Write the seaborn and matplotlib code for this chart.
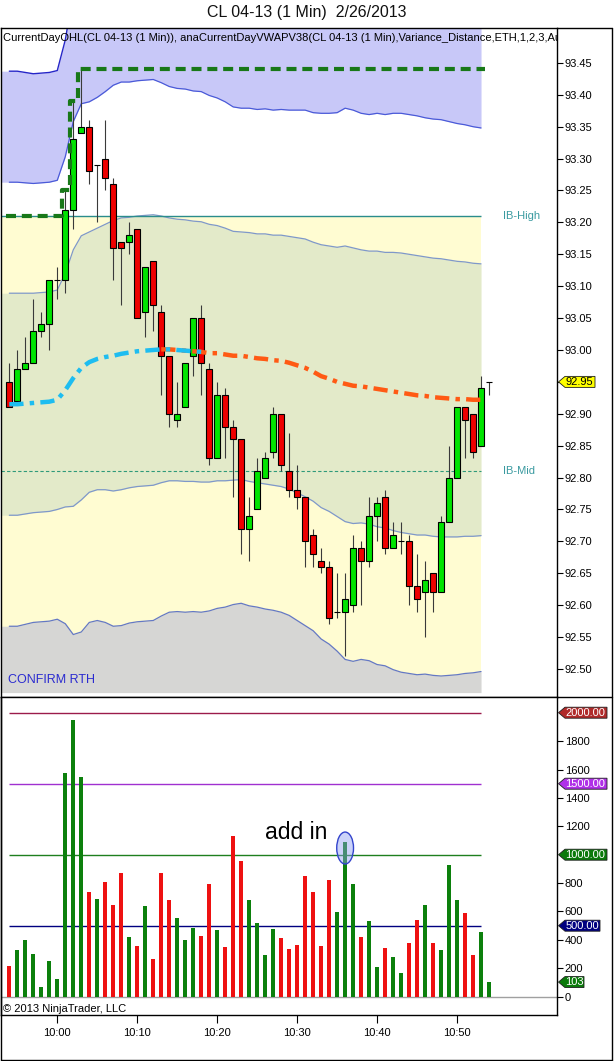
import numpy as np
import pandas as pd
import matplotlib
matplotlib.use("Agg")
import matplotlib.pyplot as plt
import seaborn as sns
from matplotlib.patches import Polygon, Ellipse
from matplotlib.lines import Line2D

sns.set_style("white")
plt.rcParams['font.family'] = ['Liberation Sans', 'DejaVu Sans']

# ---------------- data ----------------
title = "CL 04-13 (1 Min)  2/26/2013"
indicator_label = ("CurrentDayOHL(CL 04-13 (1 Min)), anaCurrentDayVWAPV38(CL 04-13 (1 Min),"
                   "Variance_Distance,ETH,1,2,3,Auto)")
times = pd.date_range("2013-02-26 09:54", periods=61, freq="min")

opens = [92.95, 92.92, 92.97, 92.98, 93.03, 93.04, 93.11, 93.11, 93.22, 93.34,
         93.35, 93.29, 93.30, 93.26, 93.17, 93.17, 93.19, 93.06, 93.14, 93.06,
         92.99, 92.89, 92.91, 92.99, 93.05, 92.97, 92.83, 92.93, 92.88, 92.86,
         92.72, 92.75, 92.80, 92.84, 92.90, 92.81, 92.78, 92.77, 92.71, 92.67,
         92.66, 92.59, 92.59, 92.60, 92.69, 92.67, 92.74, 92.77, 92.69, 92.70,
         92.70, 92.63, 92.62, 92.65, 92.62, 92.73, 92.80, 92.91, 92.90, 92.85,
         92.95]
highs = [92.98, 93.00, 93.02, 93.08, 93.06, 93.11, 93.13, 93.25, 93.39, 93.44,
         93.36, 93.29, 93.36, 93.27, 93.17, 93.20, 93.19, 93.13, 93.14, 93.07,
         92.99, 92.95, 92.98, 93.05, 93.07, 92.98, 92.95, 92.94, 92.89, 92.86,
         92.77, 92.83, 92.84, 92.91, 92.90, 92.87, 92.82, 92.77, 92.72, 92.69,
         92.67, 92.65, 92.65, 92.71, 92.70, 92.77, 92.77, 92.78, 92.73, 92.73,
         92.71, 92.68, 92.67, 92.65, 92.74, 92.85, 92.91, 92.91, 92.90, 92.96,
         92.95]
lows = [92.91, 92.92, 92.97, 92.98, 93.02, 93.00, 93.08, 93.09, 93.19, 93.34,
        93.26, 93.20, 93.25, 93.11, 93.07, 93.15, 93.05, 93.02, 93.03, 92.93,
        92.88, 92.88, 92.91, 92.96, 92.93, 92.82, 92.83, 92.83, 92.77, 92.68,
        92.67, 92.75, 92.80, 92.83, 92.81, 92.77, 92.75, 92.66, 92.66, 92.65,
        92.57, 92.58, 92.52, 92.59, 92.60, 92.66, 92.70, 92.68, 92.69, 92.68,
        92.60, 92.59, 92.55, 92.59, 92.62, 92.73, 92.80, 92.83, 92.83, 92.85,
        92.93]
closes = [92.91, 92.97, 92.98, 93.03, 93.04, 93.11, 93.11, 93.22, 93.33, 93.35,
          93.28, 93.29, 93.27, 93.16, 93.16, 93.18, 93.05, 93.13, 93.07, 92.99,
          92.90, 92.90, 92.98, 93.05, 92.98, 92.83, 92.93, 92.88, 92.86, 92.72,
          92.74, 92.81, 92.83, 92.90, 92.82, 92.78, 92.77, 92.70, 92.68, 92.66,
          92.58, 92.59, 92.61, 92.69, 92.67, 92.74, 92.76, 92.69, 92.71, 92.70,
          92.63, 92.61, 92.64, 92.62, 92.73, 92.80, 92.91, 92.89, 92.84, 92.94,
          92.95]
volumes = [218, 329, 399, 301, 70, 251, 125, 1577, 1948, 1547,
           737, 688, 810, 646, 871, 420, 357, 639, 265, 871,
           681, 554, 399, 484, 427, 796, 470, 350, 1132, 956,
           681, 521, 294, 477, 416, 338, 364, 850, 739, 357,
           822, 596, 1087, 796, 420, 535, 211, 345, 280, 167,
           378, 540, 646, 378, 331, 927, 681, 592, 294, 456,
           103]

# VWAP and its standard deviation (bands at 1, 2, 3 sd), one value per completed bar
vwap = [92.915, 92.915, 92.916, 92.917, 92.918, 92.919, 92.922, 92.937, 92.956, 92.972,
        92.981, 92.986, 92.989, 92.991, 92.994, 92.996, 92.998, 92.999, 93.000, 93.001,
        93.001, 93.000, 92.999, 92.998, 92.997, 92.995, 92.995, 92.993, 92.991, 92.991,
        92.989, 92.987, 92.986, 92.984, 92.983, 92.980, 92.976, 92.972, 92.966, 92.959,
        92.955, 92.950, 92.947, 92.944, 92.943, 92.941, 92.939, 92.937, 92.935, 92.933,
        92.931, 92.929, 92.928, 92.926, 92.925, 92.924, 92.923, 92.923, 92.922, 92.922]
vwap_sd = [0.174, 0.174, 0.173, 0.172, 0.172, 0.172, 0.172, 0.183, 0.201, 0.207,
           0.204, 0.205, 0.208, 0.212, 0.213, 0.212, 0.212, 0.212, 0.212, 0.209,
           0.206, 0.205, 0.205, 0.204, 0.204, 0.202, 0.200, 0.198, 0.195, 0.194,
           0.195, 0.195, 0.196, 0.196, 0.197, 0.198, 0.200, 0.202, 0.203, 0.206,
           0.208, 0.211, 0.216, 0.216, 0.214, 0.214, 0.216, 0.216, 0.218, 0.219,
           0.219, 0.219, 0.218, 0.218, 0.218, 0.217, 0.216, 0.215, 0.214, 0.213]
vwap_rising_until = 24      # VWAP drawn cyan while rising
vwap_falling_from = 19      # and orange-red once it turns down

prior_session_high = 93.21
ib_high = 93.21
ib_mid = 92.81

volume_levels = [2000, 1500, 1000, 500]
volume_level_line_colors = ['#9b1b4b', '#a030d0', '#1e7f1e', '#000080']
volume_level_tag_colors = ['#b02a2a', '#b030e8', '#0a7a0a', '#000080']
volume_level_tag_labels = ['2000.00', '1500.00', '1000.00', '500.00']

price_ticks = [92.50, 92.55, 92.60, 92.65, 92.70, 92.75, 92.80, 92.85, 92.90,
               92.95, 93.00, 93.05, 93.10, 93.15, 93.20, 93.25, 93.30, 93.35, 93.40, 93.45]
volume_ticks = [0, 200, 400, 600, 800, 1200, 1400, 1600, 1800]

annotation_text = "add in"
annotation_bar = 42

# ---------------- styling ----------------
UP, DOWN = '#00e400', '#ee0000'
VOL_UP, VOL_DOWN = '#0c800c', '#ee1111'
LAVENDER = '#c8c8f8'
BAND1_FILL = '#e3eac9'
IB_YELLOW = '#fffcd2'
GRAY_FILL = '#d6d6d4'
CYAN = '#1ebdf0'
ORANGE = '#ff5a14'
OHL_GREEN = '#187818'
TEAL = '#2a8c8c'

P_LO, P_HI = 92.4561, 93.5047
FILL_BOTTOM = 92.463
V_LO, V_HI = -128.9, 2110.6
X_LO, X_HI = -1.04, 68.5

FIG_W, FIG_H = 614, 1061
fig = plt.figure(figsize=(FIG_W / 100, FIG_H / 100), dpi=100)
AXW = 556
ax = fig.add_axes([1 / FIG_W, 1 - 697 / FIG_H, AXW / FIG_W, 669 / FIG_H])
ax2 = fig.add_axes([1 / FIG_W, 1 - 1015 / FIG_H, AXW / FIG_W, 318 / FIG_H])

o = np.array(opens); h = np.array(highs); l = np.array(lows); c = np.array(closes)
n = len(o)
idx = np.arange(n)
up = c >= o

vw = np.array(vwap); sd = np.array(vwap_sd)
xi = np.arange(len(vw))
b1u, b1l = vw + sd, vw - sd
b2u, b2l = vw + 2 * sd, vw - 2 * sd
b3u, b3l = vw + 3 * sd, vw - 3 * sd
xf = np.r_[X_LO, xi]
ext = lambda a: np.r_[a[0], a]
x_end = xi[-1]

# ---------------- price panel ----------------
ax.fill_between([X_LO, x_end], FILL_BOTTOM, ib_high, color=IB_YELLOW, lw=0, zorder=0.5)
ax.fill_between(xf, ext(b1l), ext(b1u), color=BAND1_FILL, lw=0, zorder=0.8)
ax.fill_between(xf, ext(b2u), ext(b3u), color=LAVENDER, lw=0, zorder=0.8)
ax.fill_between(xf, np.maximum(ext(b3l), FILL_BOTTOM), ext(b2l), color=GRAY_FILL, lw=0, zorder=0.8)

for arr, col, lw in [(b3u, '#2626c8', 1.0), (b2u, '#4a5ad8', 0.9), (b1u, '#7f98c9', 0.9),
                     (b1l, '#7f98c9', 0.9), (b2l, '#6478c4', 0.9)]:
    sns.lineplot(x=xi, y=arr, color=col, lw=lw, ax=ax, sort=False, estimator=None, zorder=1)

ax.hlines(ib_high, X_LO, x_end, color=TEAL, lw=1.0, zorder=1.2)
ax.hlines(ib_mid, X_LO, x_end, color='#2f9a7a', lw=0.8, linestyles=(0, (3, 2)), zorder=1.2)
ax.text(64.1, ib_high, "IB-High", color='#3a9aa0', fontsize=8, ha='center', va='center')
ax.text(63.7, ib_mid, "IB-Mid", color='#3a9aa0', fontsize=8, ha='center', va='center')

# candles
ax.vlines(idx, l, h, color='#3a3a3a', lw=0.8, zorder=3)
ax.bar(idx, np.abs(c - o), bottom=np.minimum(o, c), width=0.78,
       color=np.where(up, UP, DOWN), edgecolor='black', lw=0.8, zorder=3.1)

# VWAP (dash-dot, coloured by slope)
dd = (0, (3.2, 1.4, 1.0, 1.4))
sns.lineplot(x=xi[vwap_falling_from:], y=vw[vwap_falling_from:], color=ORANGE, lw=3.2,
             linestyle=dd, ax=ax, sort=False, estimator=None, zorder=4)
sns.lineplot(x=xi[:vwap_rising_until + 1], y=vw[:vwap_rising_until + 1], color=CYAN, lw=3.2,
             linestyle=dd, ax=ax, sort=False, estimator=None, zorder=4.1)

# current day high (step)
run_high = np.maximum.accumulate(np.maximum(h[:len(xi)], prior_session_high))
ax.plot(np.r_[xi - 0.4, x_end + 0.5], np.r_[run_high, run_high[-1]], drawstyle='steps-post',
        color=OHL_GREEN, lw=3.0, linestyle=(0, (2.4, 1.4)), zorder=4.2)

ax.set_xlim(X_LO, X_HI)
ax.set_ylim(P_LO, P_HI)
ax.set_xticks([])
ax.yaxis.tick_right()
ax.set_yticks(price_ticks)
ax.set_yticklabels([f"{v:.2f}" for v in price_ticks])
ax.tick_params(axis='y', direction='out', length=4, width=0.8, pad=1.5, labelsize=8,
               colors='black', right=True, left=False)
ax.set_xlabel(""); ax.set_ylabel("")
for s in ax.spines.values():
    s.set_color('black'); s.set_linewidth(1.0); s.set_visible(True)

ax.text(2 / AXW, 1 - 10 / 669, indicator_label, transform=ax.transAxes, fontsize=8,
        ha='left', va='center', color='black', clip_on=True, zorder=6)
ax.text(7 / AXW, 1 - 652 / 669, "CONFIRM RTH", transform=ax.transAxes, fontsize=9,
        color='#2b2bd0', ha='left', va='center', zorder=6)


def tag(axis, value, text, face, tcolor, lo, hi, ax_h_px, w_px, fs=8):
    yf = (value - lo) / (hi - lo)
    hh = 5.5 / ax_h_px
    x_tip = (558.5 - 1) / AXW
    x_b = (565 - 1) / AXW
    x_r = (565 + w_px - 1) / AXW
    poly = Polygon([[x_tip, yf], [x_b, yf + hh], [x_r, yf + hh], [x_r, yf - hh], [x_b, yf - hh]],
                   closed=True, transform=axis.transAxes, facecolor=face, edgecolor='#202020',
                   lw=0.6, clip_on=False, zorder=10)
    axis.add_patch(poly)
    axis.text((x_b + x_r) / 2 - 0.5 / AXW, yf, text, transform=axis.transAxes, fontsize=fs,
              color=tcolor, ha='center', va='center', clip_on=False, zorder=11)


tag(ax, c[-1], f"{c[-1]:.2f}", '#ffff00', 'black', P_LO, P_HI, 669, 30)

# ---------------- volume panel ----------------
vdf = pd.DataFrame({'bar': idx, 'volume': volumes, 'dir': np.where(up, 'up', 'down')})
for lvl, col in zip(volume_levels, volume_level_line_colors):
    ax2.hlines(lvl, 0, x_end, color=col, lw=1.0, zorder=1)
ax2.axhline(0, color='#a0a0a0', lw=1.0, zorder=1)
sns.barplot(data=vdf, x='bar', y='volume', hue='dir', palette={'up': VOL_UP, 'down': VOL_DOWN},
            dodge=False, width=0.46, legend=False, errorbar=None, saturation=1, ax=ax2,
            linewidth=0, zorder=2)

vol_a = np.array(volumes)
ell = Ellipse((annotation_bar, vol_a[annotation_bar] - 40), 2.1, 225,
              facecolor=(0.55, 0.62, 0.95, 0.45), edgecolor='#3344cc', lw=1.0, zorder=5)
ax2.add_patch(ell)
ax2.text(35.9, 1153, annotation_text, fontsize=16.5, color='black', ha='center', va='center', zorder=6)

ax2.set_xlim(X_LO, X_HI)
ax2.set_ylim(V_LO, V_HI)
ax2.yaxis.tick_right()
ax2.set_yticks(volume_ticks)
ax2.set_yticklabels([str(v) for v in volume_ticks])
tick_pos = [i for i, t in enumerate(times) if t.minute % 10 == 0]
ax2.set_xticks(tick_pos)
ax2.set_xticklabels([times[i].strftime("%H:%M") for i in tick_pos])
ax2.tick_params(axis='y', direction='out', length=4, width=0.8, pad=1.5, labelsize=8,
                colors='black', right=True, left=False)
ax2.tick_params(axis='x', direction='out', length=6, width=0.8, pad=3, labelsize=8,
                colors='black', bottom=True)
ax2.set_xlabel(""); ax2.set_ylabel("")
for s in ax2.spines.values():
    s.set_color('black'); s.set_linewidth(1.0); s.set_visible(True)

for lvl, face, lab in zip(volume_levels, volume_level_tag_colors, volume_level_tag_labels):
    tag(ax2, lvl, lab, face, 'white', V_LO, V_HI, 318, 42 if lvl >= 1000 else 35)
tag(ax2, vol_a[-1], str(vol_a[-1]), '#0a7a0a', 'white', V_LO, V_HI, 318, 19)

ax2.text(2 / AXW, 6 / 318, "\u00a9 2013 NinjaTrader, LLC", transform=ax2.transAxes,
         fontsize=8, ha='left', va='center', color='black', zorder=6)

# ---------------- outer frame & title ----------------
def fline(x0, y0, x1, y1):
    fig.add_artist(Line2D([x0 / FIG_W, x1 / FIG_W], [1 - y0 / FIG_H, 1 - y1 / FIG_H],
                          color='black', lw=1.0, transform=fig.transFigure))

fline(557, 28, 612, 28)
fline(612, 28, 612, 1060)
fline(1, 1060, 612, 1060)
fline(1, 697, 1, 1060)
fline(557, 697, 612, 697)

fig.text(0.5, 1 - 13 / FIG_H, title, ha='center', va='center', fontsize=11.5, color='#111111')

fig.savefig("out.png", dpi=100)
